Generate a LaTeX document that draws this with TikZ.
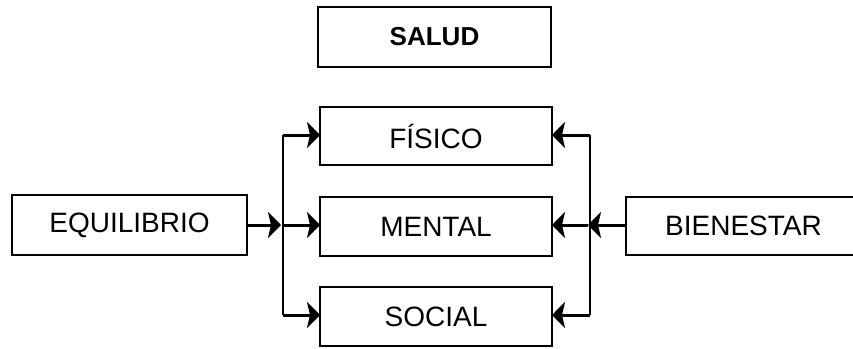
\documentclass[tikz,border=0pt]{standalone}
\usepackage{fontspec}
\setmainfont{Liberation Sans}
\usetikzlibrary{arrows.meta}
\begin{document}
\begin{tikzpicture}[x=1pt,y=-1pt,
  box/.style={draw, line width=2pt, inner sep=0pt, outer sep=0pt, minimum width=232pt, font=\fontsize{28}{32}\selectfont},
  arr/.style={line width=3pt, -{Stealth[length=13pt,width=26pt,inset=3pt]}},
  bus/.style={line width=2.2pt}]
\useasboundingbox (0,0) rectangle (853,348);
\clip (0,0) rectangle (853,348);
\node[box, minimum height=60pt, minimum width=233pt, font=\fontsize{26}{30}\selectfont\bfseries] (sal) at (434.5,37) {SALUD};
\node[box, minimum height=58pt] (fis) at (436,136) {FÍSICO};
\node[box, minimum height=59pt] (men) at (436,226.5) {MENTAL};
\node[box, minimum height=59pt] (soc) at (436,316.5) {SOCIAL};
\node[box, minimum height=60pt, minimum width=235pt] (equ) at (129.5,225) {EQUILIBRIO};
\node[box, minimum height=58pt, minimum width=235pt] (bie) at (743.5,226) {BIENESTAR};
% left bus
\coordinate (lt) at (283,135);
\coordinate (lm) at (283,225);
\coordinate (lb) at (283,315);
\draw[bus] (lt) -- (lb);
\draw[arr, shorten >=2pt] (equ.east) -- (lm);
\draw[arr] (lt) -- (lt -| fis.west);
\draw[arr] (lm) -- (lm -| men.west);
\draw[arr] (lb) -- (lb -| soc.west);
% right bus
\coordinate (rt) at (590,135);
\coordinate (rm) at (590,225);
\coordinate (rb) at (590,315);
\draw[bus] (rt) -- (rb);
\draw[arr, shorten >=-2pt] (bie.west |- rm) -- (rm);
\draw[arr] (rt) -- (rt -| fis.east);
\draw[arr, shorten <=2pt] (rm) -- (rm -| men.east);
\draw[arr] (rb) -- (rb -| soc.east);
\end{tikzpicture}
\end{document}
